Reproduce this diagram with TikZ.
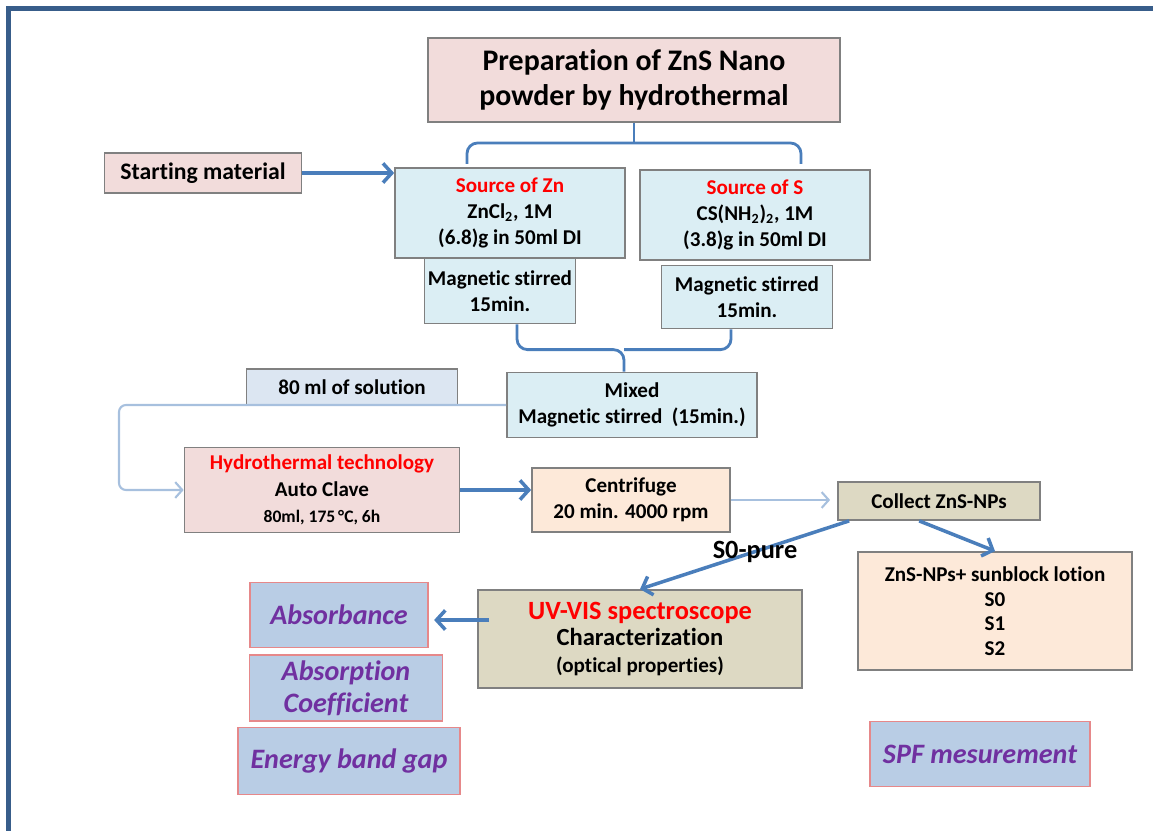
\documentclass[tikz,border=0pt]{standalone}
\usepackage{fontspec}
\setmainfont[Ligatures=NoCommon]{Carlito}
\usepackage{tikz}
\usetikzlibrary{arrows.meta,positioning,calc}

\definecolor{framebl}{HTML}{385D8A}
\definecolor{boxpink}{HTML}{F2DCDB}
\definecolor{boxaqua}{HTML}{DBEEF4}
\definecolor{boxsol}{HTML}{DCE6F2}
\definecolor{boxpeach}{HTML}{FDE9D9}
\definecolor{boxolive}{HTML}{DDD9C3}
\definecolor{boxres}{HTML}{B9CDE5}
\definecolor{resedge}{HTML}{E6888A}
\definecolor{respurple}{HTML}{7030A0}
\definecolor{flowbl}{HTML}{4A7EBB}
\definecolor{thinbl}{HTML}{A7C0DE}

\begin{document}
\begin{tikzpicture}[x=0.02cm, y=-0.02cm,
  box/.style={draw=black!50, line width=1pt, align=center, inner sep=2pt,
    font=\fontsize{12}{15}\selectfont\bfseries},
  resbox/.style={draw=resedge, line width=1pt, fill=boxres, align=center,
    text=respurple, font=\fontsize{16}{18}\selectfont\bfseries\itshape},
  flow/.style={draw=flowbl, line width=2pt, -{Straight Barb[length=5pt,width=11pt]}},
  thinflow/.style={draw=thinbl, line width=1.2pt, -{Straight Barb[length=4pt,width=9pt]}},
  bracket/.style={draw=flowbl, line width=1.6pt, rounded corners=6pt}]
\useasboundingbox (0,0) rectangle (1153,831);
% Frame
\draw[framebl, line width=0.1cm] (8.5,831) -- (8.5,8.5) -- (1153,8.5);
% Title and inputs
\node[box, fill=boxpink, minimum width=8.24cm, minimum height=1.68cm,
  font=\fontsize{17}{20}\selectfont\bfseries] (title) at (634,80) {Preparation of ZnS Nano\\powder by hydrothermal};
\node[box, fill=boxpink, minimum width=3.94cm, minimum height=0.8cm,
  font=\fontsize{13.5}{16}\selectfont\bfseries] (start) at (203,173) {Starting material};
\node[box, fill=boxaqua, minimum width=4.6cm, minimum height=1.8cm] (srcZn) at (510,213)
  {\textcolor{red}{Source of Zn}\\ZnCl\textsubscript{2}, 1M\\(6.8)g in 50ml DI};
\node[box, fill=boxaqua, minimum width=4.6cm, minimum height=1.8cm] (srcS) at (755,215)
  {\textcolor{red}{Source of S}\\CS(NH\textsubscript{2})\textsubscript{2}, 1M\\(3.8)g in 50ml DI};
\node[box, fill=boxaqua, minimum width=2.9cm, minimum height=1.3cm] (stirZn) at (500,291) {Magnetic stirred\\15min.};
\node[box, fill=boxaqua, minimum width=3.42cm, minimum height=1.26cm] (stirS) at (747,297) {Magnetic stirred\\15min.};
\node[box, fill=boxaqua, minimum width=5cm, minimum height=1.3cm] (mixed) at (632,405) {Mixed\\Magnetic stirred~~(15min.)};
\node[box, fill=boxsol, minimum width=4.22cm, minimum height=0.72cm] (sol) at (352,387) {80 ml of solution};
% Processing
\node[box, fill=boxpink, minimum width=5.5cm, minimum height=1.7cm] (hydro) at (322,490)
  {\textcolor{red}{Hydrothermal technology}\\Auto Clave\\{\fontsize{10}{13}\selectfont 80ml, 175\,°C, 6h}};
\node[box, fill=boxpeach, minimum width=3.96cm, minimum height=1.28cm] (centr) at (631,500) {Centrifuge\\20 min. 4000 rpm};
\node[box, fill=boxolive, minimum width=4.04cm, minimum height=0.76cm] (collect) at (939,501) {Collect ZnS-NPs};
\node[box, fill=boxpeach, minimum width=5.48cm, minimum height=2.36cm,
  font=\fontsize{12}{14}\selectfont\bfseries] (lotion) at (995,611) {ZnS-NPs+ sunblock lotion\\S0\\S1\\S2};
\node[box, fill=boxolive, minimum width=6.48cm, minimum height=1.96cm] (uvvis) at (640,639)
  {{\fontsize{15}{18}\selectfont\textcolor{red}{UV-VIS spectroscope}}\\{\fontsize{14}{18}\selectfont Characterization}\\(optical properties)};
% Results
\node[resbox, minimum width=3.56cm, minimum height=1.3cm] (absb) at (339,615) {Absorbance};
\node[resbox, minimum width=3.86cm, minimum height=1.3cm] (abscoef) at (346,688) {Absorption\\Coefficient};
\node[resbox, minimum width=4.44cm, minimum height=1.34cm] (egap) at (349,761) {Energy band gap};
\node[resbox, minimum width=4.4cm, minimum height=1.3cm] (spf) at (980,754) {SPF mesurement};
% Brackets
\coordinate (bl) at (467,164);
\coordinate (br) at (801,164);
\draw[bracket] (title.south) -- (title.south |- 0,143);
\draw[bracket] (bl) |- (title.south |- 0,143) -| (br);
\coordinate (mz) at ($(mixed.north)+(-8,0)$);
\draw[bracket] ($(stirZn.south)+(17,0)$) |- ($(mz)+(0,-22)$) -- (mz);
\draw[bracket] ($(stirS.south)+(-16,0)$) |- ($(mz)+(0,-22)$);
% Flow arrows
\draw[flow] (start.east) -- (start.east -| srcZn.west);
\draw[thinflow, rounded corners=4pt] (mixed.west) -| (119,450) |- (hydro.west);
\draw[flow] (hydro.east) -- (hydro.east -| centr.west);
\draw[thinflow, shorten >=4pt] (centr.east) -- (centr.east -| collect.west);
\draw[flow] ($(collect.south west)+(12,0)$) -- node[pos=0.45, font=\fontsize{15}{18}\selectfont\bfseries] {S0-pure} (uvvis.north);
\draw[flow] ($(collect.south west)+(82,0)$) -- (lotion.north);
\draw[flow, shorten >=3pt] ($(uvvis.west |- absb.east)+(12,5)$) -- ($(absb.east)+(0,5)$);
\end{tikzpicture}
\end{document}
